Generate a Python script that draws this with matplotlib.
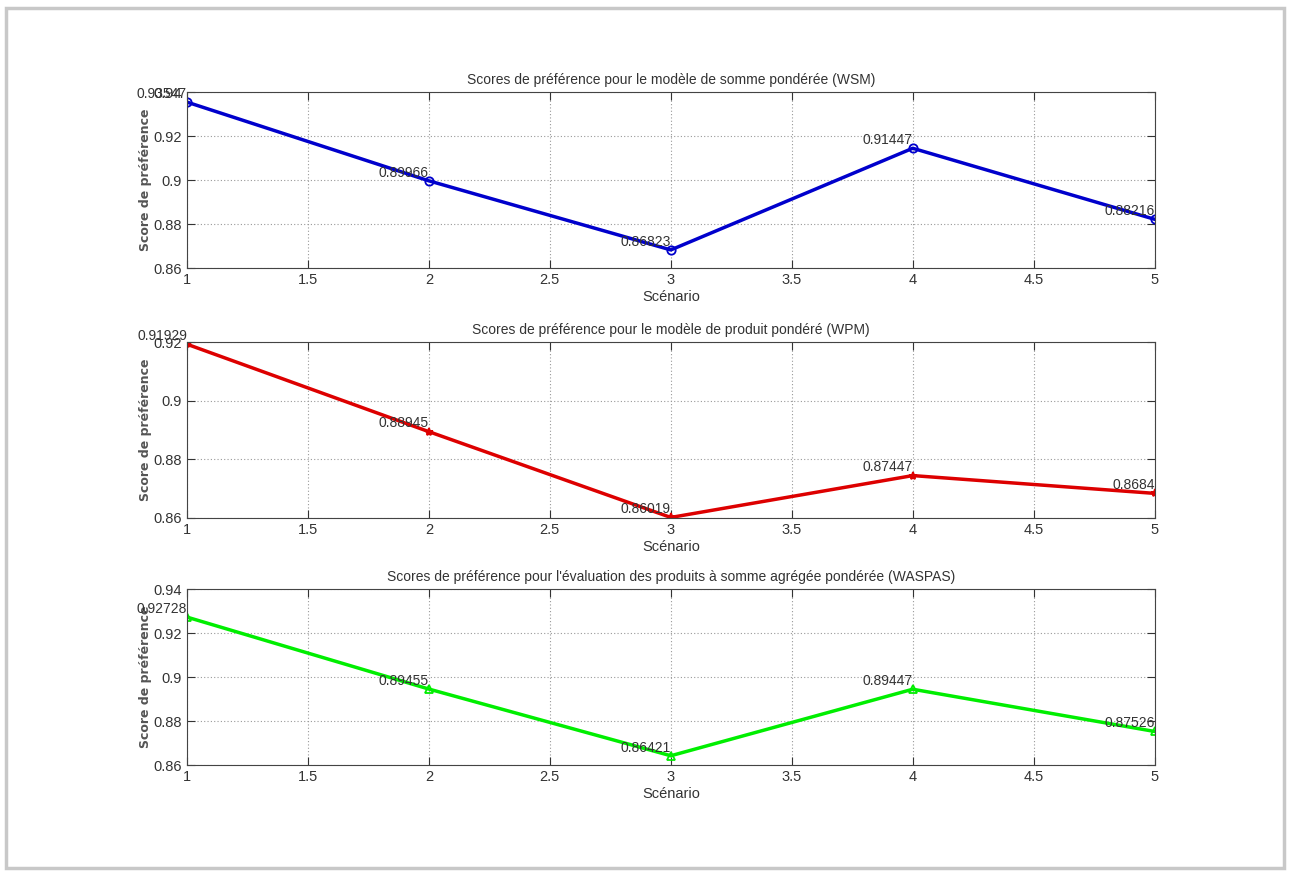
import matplotlib
matplotlib.use("Agg")
import matplotlib.pyplot as plt
from matplotlib.patches import Rectangle

plt.rcParams['font.family'] = ['Liberation Sans Narrow', 'Liberation Sans', 'DejaVu Sans']

scenarios = [1, 2, 3, 4, 5]
wsm = [0.93547, 0.89966, 0.86823, 0.91447, 0.88216]
wpm = [0.91929, 0.88945, 0.86019, 0.87447, 0.8684]
waspas = [0.92728, 0.89455, 0.86421, 0.89447, 0.87526]

titles = ["Scores de préférence pour le modèle de somme pondérée (WSM)",
          "Scores de préférence pour le modèle de produit pondéré (WPM)",
          "Scores de préférence pour l'évaluation des produits à somme agrégée pondérée (WASPAS)"]
series = [wsm, wpm, waspas]
colors = ["#0000cc", "#dd0000", "#00ee00"]
markers = ["o", "*", "^"]
ylims = [(0.86, 0.94), (0.86, 0.92), (0.86, 0.94)]
yticks = [[0.86, 0.88, 0.9, 0.92, 0.94], [0.86, 0.88, 0.9, 0.92], [0.86, 0.88, 0.9, 0.92, 0.94]]
xticks = [1, 1.5, 2, 2.5, 3, 3.5, 4, 4.5, 5]

fig = plt.figure(figsize=(12.92, 8.75), dpi=100)

# cadre gris autour de la figure
fig.patches.append(Rectangle((0.005, 0.008), 0.989, 0.983, transform=fig.transFigure,
                             fill=False, edgecolor="#c8c8c8", linewidth=2.5))

bottoms = [0.6937, 0.408, 0.1257]
for i in range(3):
    ax = fig.add_axes([0.1447, bottoms[i], 0.749, 0.201])
    ax.plot(scenarios, series[i], color=colors[i], marker=markers[i], linewidth=2.5,
            markersize=6, markerfacecolor="none" if markers[i] != "*" else colors[i],
            markeredgewidth=1.3)
    for x, y in zip(scenarios, series[i]):
        ax.text(x, y + 0.0005, "%g" % y, ha="right", va="bottom", fontsize=10, color="#333333")
    ax.set_xlim(1, 5)
    ax.set_ylim(*ylims[i])
    ax.set_xticks(xticks)
    ax.set_xticklabels(["%g" % t for t in xticks])
    ax.set_yticks(yticks[i])
    ax.set_yticklabels(["%g" % t for t in yticks[i]])
    ax.grid(True, linestyle=(0, (1, 2)), color="#999999", linewidth=0.8)
    ax.tick_params(direction="in", length=6, labelsize=10.5, colors="#333333", top=True, right=True)
    ax.set_title(titles[i], fontsize=10, color="#333333", pad=6)
    ax.set_xlabel("Scénario", fontsize=10.5, color="#333333", labelpad=2)
    ax.set_ylabel("Score de préférence", fontsize=9, fontweight="bold", color="#555555",
                  family=["DejaVu Sans"])
    ax.yaxis.set_label_coords(-0.036, 0.5)
    for s in ax.spines.values():
        s.set_color("#444444")

fig.savefig("out.png", dpi=100)
